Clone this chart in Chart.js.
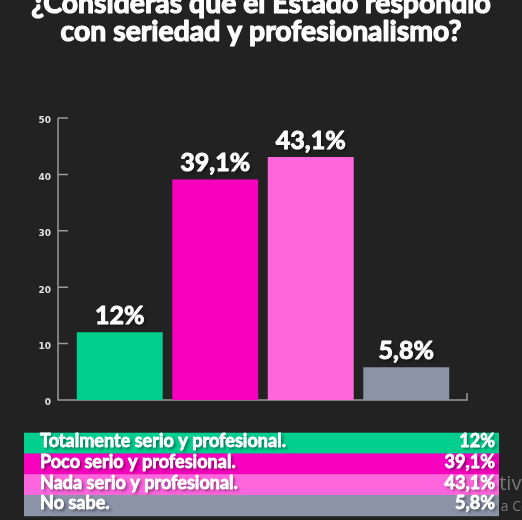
<!DOCTYPE html>
<html>
<head>
<meta charset="utf-8">
<script src="https://cdn.jsdelivr.net/npm/chart.js@4.4.1/dist/chart.umd.min.js"></script>
<style>
  html, body { margin: 0; padding: 0; background: #222222; }
  #wrap { width: 522px; height: 520px; }
</style>
</head>
<body>
<div id="wrap"><canvas id="myChart" width="522" height="520"></canvas></div>
<script>
const categories = [
  'Totalmente serio y profesional.',
  'Poco serio y profesional.',
  'Nada serio y profesional.',
  'No sabe.',
]
const values = [12, 39.1, 43.1, 5.8]
const colors = ['#00CF8E', '#F700BE', '#FF66DD', '#8B93A7']
const yTicks = [0, 10, 20, 30, 40, 50]
const titleLines = ['¿Consideras que el Estado respondió', 'con seriedad y profesionalismo?']

const FONT = 'Lato'
const pct = (v) => String(v).replace('.', ',') + '%'

// font size so that text gets a given width
function fitSize(ctx, text, weight, width) {
  ctx.font = weight + ' 100px ' + FONT
  return (100 * width) / ctx.measureText(text).width
}

function shadowOn(ctx) {
  ctx.shadowColor = 'rgba(0,0,0,0.55)'
  ctx.shadowOffsetX = 2
  ctx.shadowOffsetY = 2
  ctx.shadowBlur = 3
}

// filled + thin stroke, the original font is heavier than Lato bold
function heavyText(ctx, text, x, y, w) {
  ctx.lineWidth = w
  ctx.strokeStyle = ctx.fillStyle
  ctx.lineJoin = 'round'
  ctx.fillText(text, x, y)
  ctx.shadowColor = 'transparent'
  ctx.strokeText(text, x, y)
}

const titlePlugin = {
  id: 'titlePlugin',
  beforeDraw(chart) {
    const ctx = chart.ctx
    ctx.save()
    const size = fitSize(ctx, titleLines[1], 'bold', 401)
    ctx.font = 'bold ' + size + 'px ' + FONT
    ctx.fillStyle = '#ffffff'
    ctx.textAlign = 'center'
    ctx.textBaseline = 'alphabetic'
    heavyText(ctx, titleLines[0], 261, 13, 1.2)
    heavyText(ctx, titleLines[1], 261, 41, 1.2)
    ctx.restore()
  },
}

const axisLines = {
  id: 'axisLines',
  beforeDatasetsDraw(chart) {
    const { ctx, chartArea: a, scales: { y } } = chart
    const x0 = a.left - 14
    ctx.save()
    ctx.strokeStyle = '#9a9a9a'
    ctx.lineWidth = 1.5
    ctx.beginPath()
    ctx.moveTo(x0, y.top)
    ctx.lineTo(x0, a.bottom)
    ctx.lineTo(a.right + 13, a.bottom)
    ctx.lineTo(a.right + 13, a.bottom - 7)
    y.ticks.forEach((t) => {
      const py = y.getPixelForValue(t.value)
      ctx.moveTo(x0, py)
      ctx.lineTo(x0 + 10, py)
    })
    ctx.stroke()
    ctx.restore()
  },
}

const valueLabels = {
  id: 'valueLabels',
  afterDatasetsDraw(chart) {
    const ctx = chart.ctx
    const bars = chart.getDatasetMeta(0).data
    ctx.save()
    ctx.font = 'bold 25px ' + FONT
    ctx.textAlign = 'center'
    ctx.textBaseline = 'alphabetic'
    bars.forEach((bar, i) => {
      ctx.fillStyle = '#ffffff'
      shadowOn(ctx)
      heavyText(ctx, pct(values[i]), bar.x, bar.y - 8, 1)
    })
    ctx.restore()
  },
}

const tablePlugin = {
  id: 'tablePlugin',
  afterDraw(chart) {
    const ctx = chart.ctx
    ctx.save()
    // windows watermark behind the table
    ctx.fillStyle = 'rgba(150,150,150,0.75)'
    ctx.font = '20px "Open Sans"'
    ctx.textAlign = 'left'
    ctx.fillText('Activar Windows', 477, 490)
    ctx.font = '14px "Open Sans"'
    ctx.fillText('Ve a Configuración para activar Windows.', 481, 511)

    const left = 24
    const right = 499
    const top = 432.7
    const rowH = 20.75
    const size = fitSize(ctx, categories[0], 'bold', 246)
    categories.forEach((label, i) => {
      const ry = top + i * rowH
      ctx.fillStyle = colors[i]
      ctx.fillRect(left, ry, right - left, rowH + 0.5)
    })
    ctx.font = 'bold ' + size + 'px ' + FONT
    categories.forEach((label, i) => {
      const by = top + i * rowH + 14.5
      ctx.fillStyle = '#ffffff'
      ctx.textAlign = 'left'
      shadowOn(ctx)
      heavyText(ctx, label, 40, by, 0.8)
      ctx.textAlign = 'right'
      shadowOn(ctx)
      heavyText(ctx, pct(values[i]), 495, by, 0.8)
    })
    ctx.restore()
  },
}

new Chart(document.getElementById('myChart'), {
  type: 'bar',
  data: {
    labels: categories,
    datasets: [
      {
        data: values,
        backgroundColor: colors,
        borderWidth: 0,
        categoryPercentage: 1,
        barPercentage: 0.9,
      },
    ],
  },
  options: {
    responsive: false,
    animation: false,
    devicePixelRatio: 1,
    layout: { padding: { top: 118, right: 68, bottom: 120, left: 0 } },
    plugins: {
      legend: { display: false },
      tooltip: { enabled: false },
    },
    scales: {
      x: {
        grid: { display: false, drawTicks: false },
        border: { display: false },
        ticks: { display: false },
        afterFit: (scale) => { scale.height = 0 },
      },
      y: {
        min: 0,
        max: 50,
        grid: { display: false, drawTicks: false },
        border: { display: false },
        afterFit: (scale) => { scale.width = 72 },
        afterBuildTicks: (scale) => {
          scale.ticks = yTicks.map((v) => ({ value: v }))
        },
        ticks: {
          color: '#e0e0e0',
          padding: 21,
          labelOffset: 3,
          font: { family: 'DejaVu Sans', size: 9, weight: 'bold' },
        },
      },
    },
  },
  plugins: [titlePlugin, axisLines, valueLabels, tablePlugin],
})
</script>
</body>
</html>
